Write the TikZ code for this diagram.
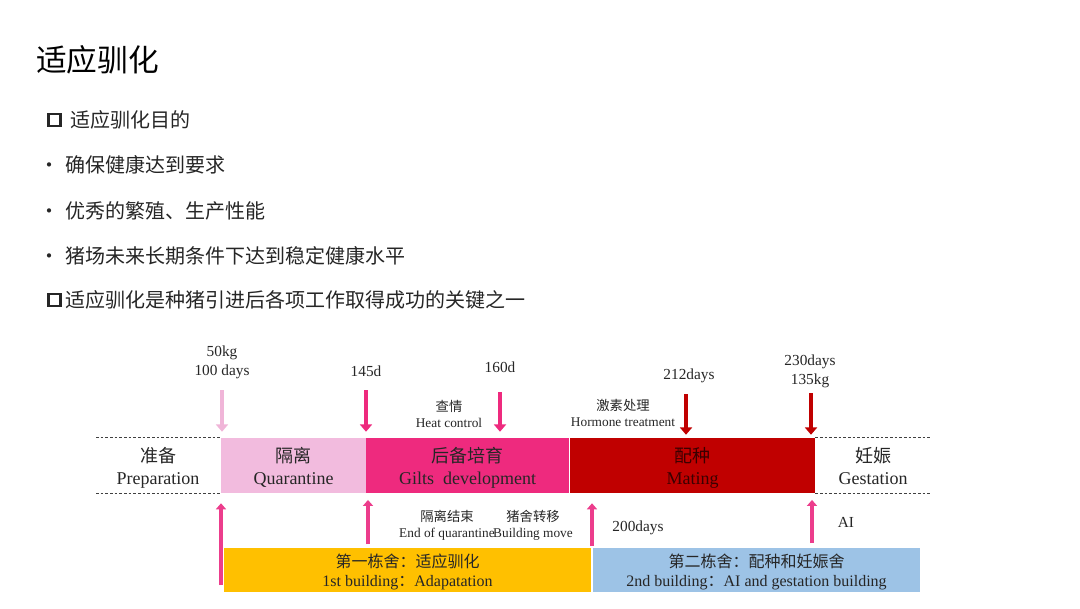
\documentclass[tikz,border=0pt]{standalone}
\usepackage{fontspec}
\setmainfont{Liberation Serif}
\newfontfamily\cjk{Noto Sans CJK SC}
\usetikzlibrary{arrows.meta, positioning, calc}
\definecolor{quarpink}{HTML}{F2BBDE}
\definecolor{giltpink}{HTML}{EE2A7E}
\definecolor{matred}{HTML}{C00000}
\definecolor{arrowpale}{HTML}{F0B5D8}
\definecolor{arrowpink}{HTML}{EC3D8C}
\definecolor{bldyellow}{HTML}{FFC000}
\definecolor{bldblue}{HTML}{9DC3E6}
\definecolor{textdark}{HTML}{262626}

\begin{document}
\begin{tikzpicture}[
    x=0.75pt, y=-0.75pt,
    phase/.style={rectangle, minimum height=41.25pt, inner sep=0pt, text depth=0pt, align=center, font=\fontsize{13.5}{16.5}\selectfont, text=textdark},
    building/.style={rectangle, minimum height=33pt, inner sep=0pt, text depth=-0.5pt, align=center, font=\fontsize{12}{14.25}\selectfont, text=textdark},
    daylabel/.style={align=center, inner sep=0pt, font=\fontsize{11.5}{14.25}\selectfont, text=textdark},
    smalllabel/.style={align=center, inner sep=0pt, font=\fontsize{10}{12}\selectfont, text=textdark},
    topitem/.style={anchor=west, inner sep=0pt, font=\cjk\fontsize{15}{18}\selectfont, text=textdark},
    sqbox/.style={rectangle, draw=textdark, line width=2.2pt, minimum size=9pt, inner sep=0pt},
    dashline/.style={dash pattern=on 2pt off 1.5pt, black!75, line width=0.6pt},
    tarrow/.style={-{Triangle[width=9pt, length=5.5pt]}, line width=3.6pt},
    barrow/.style={-{Triangle[width=7.5pt, length=4.5pt]}, line width=3.3pt, arrowpink}
]
\path[fill=white, use as bounding box] (0,0) rectangle (1080,608);

\node[anchor=west, inner sep=0pt, font=\cjk\fontsize{23}{28}\selectfont] (title) at (36,60) {适应驯化};
\node[sqbox] (sq1) at (54.5,120) {};
\node[topitem] (goal) at (70,120) {适应驯化目的};
\node[topitem] (item1) at (39,165) {\makebox[19.5pt][l]{•}确保健康达到要求};
\node[topitem] (item2) at (39,211) {\makebox[19.5pt][l]{•}优秀的繁殖、生产性能};
\node[topitem] (item3) at (39,256) {\makebox[19.5pt][l]{•}猪场未来长期条件下达到稳定健康水平};
\node[sqbox] (sq2) at (54.5,300) {};
\node[topitem] (key) at (65,300) {适应驯化是种猪引进后各项工作取得成功的关键之一};

\node[phase] (prep) at (158,465.5) {{\cjk 准备}\\Preparation};
\node[phase, fill=quarpink, minimum width=108.75pt] (quar) at (293.5,465.5) {{\cjk 隔离}\\Quarantine};
\node[phase, fill=giltpink, minimum width=152.25pt] (gilt) at (467.5,465.5) {{\cjk 后备培育}\\Gilts~ development};
\node[phase, fill=matred, minimum width=183.75pt, text=black!70!matred] (mat) at (692.5,465.5) {{\cjk 配种}\\Mating};
\node[phase] (gest) at (873,465.5) {{\cjk 妊娠}\\Gestation};

\coordinate (dl) at (96,0);
\coordinate (dr) at (930,0);
\draw[dashline] (dl |- quar.north) -- (quar.north west);
\draw[dashline] (dl |- quar.south) -- (quar.south west);
\draw[dashline] (mat.north east) -- (dr |- mat.north);
\draw[dashline] (mat.south east) -- (dr |- mat.south);

\node[building, fill=bldyellow, minimum width=275.25pt] (bld1) at (407.5,570) {{\cjk 第一栋舍：适应驯化}\\1st building{\cjk ：}Adapatation};
\node[building, fill=bldblue, minimum width=245.25pt] (bld2) at (756.5,570) {{\cjk 第二栋舍：配种和妊娠舍}\\2nd building{\cjk ：}AI and gestation building};

\node[daylabel] (l50) at (222,362) {50kg\\100 days};
\node[daylabel] (l145) at (366,371) {145d};
\node[daylabel] (l160) at (500,367) {160d};
\node[smalllabel] (lheat) at (449,414) {{\cjk 查情}\\Heat control};
\node[smalllabel] (lhorm) at (623,413) {{\cjk 激素处理}\\Hormone treatment};
\node[daylabel] (l212) at (689,376) {212days};
\node[daylabel] (l230) at (810,371) {230days\\135kg};

\node[smalllabel] (lend) at (447,525) {{\cjk 隔离结束}\\End of quarantine};
\node[smalllabel] (lmove) at (533,525) {{\cjk 猪舍转移}\\Building move};
\node[daylabel] (l200) at (638,528) {200days};
\node[daylabel] (lai) at (846,522) {AI};

\coordinate (t50) at (222,390);
\coordinate (t145) at (366,390);
\coordinate (t160) at (500,392);
\coordinate (t212) at (686,394);
\coordinate (t230) at (811,393);
\draw[tarrow, arrowpale, shorten >=4.5pt] (t50) -- (t50 |- quar.north);
\draw[tarrow, giltpink, shorten >=4.5pt] (t145) -- (t145 |- gilt.north);
\draw[tarrow, giltpink, shorten >=4.5pt] (t160) -- (t160 |- gilt.north);
\draw[tarrow, matred, shorten >=2.25pt] (t212) -- (t212 |- mat.north);
\draw[tarrow, matred, shorten >=2.25pt] (t230) -- (t230 |- mat.north);

\coordinate (b221) at (221,585);
\coordinate (b368) at (368,544);
\coordinate (b592) at (592,546);
\coordinate (b812) at (812,543);
\draw[barrow, shorten >=7.5pt] (b221) -- (b221 |- quar.south);
\draw[barrow, shorten >=5pt] (b368) -- (b368 |- gilt.south);
\draw[barrow, shorten >=7.5pt] (b592) -- (b592 |- mat.south);
\draw[barrow, shorten >=5pt] (b812) -- (b812 |- mat.south);
\end{tikzpicture}
\end{document}
